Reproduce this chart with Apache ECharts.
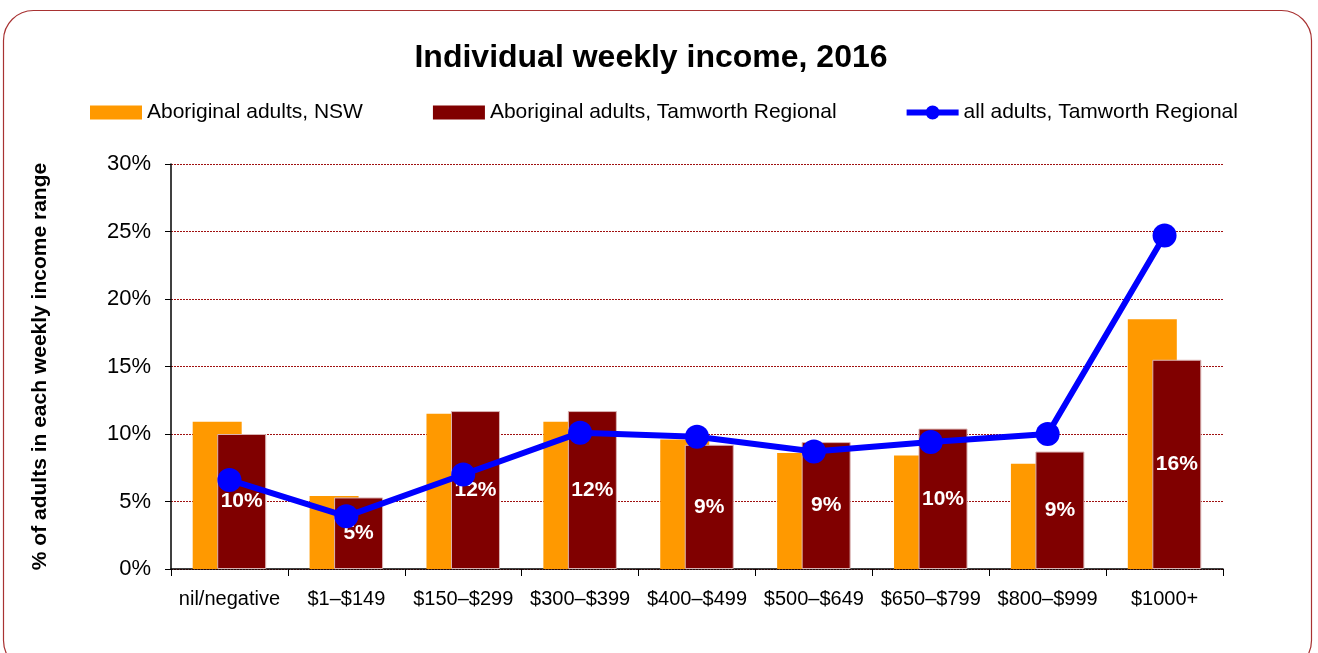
<!DOCTYPE html>
<html>
<head>
    <meta charset="utf-8">
    <title>Individual weekly income, 2016</title>
    <script src="https://cdn.jsdelivr.net/npm/echarts@6/dist/echarts.min.js"></script>
    <style>
        html, body { margin: 0; padding: 0; background: #fff; }
        #main { width: 1318px; height: 653px; }
    </style>
</head>
<body>
    <div id="main"></div>
<script type="text/javascript">
    var categories = ['nil/negative', '$1–$149', '$150–$299', '$300–$399', '$400–$499',
        '$500–$649', '$650–$799', '$800–$999', '$1000+'];
    var nswAboriginal = [10.9, 5.4, 11.5, 10.9, 9.6, 8.6, 8.4, 7.8, 18.5];
    var tamworthAboriginal = [10.0, 5.3, 11.7, 11.7, 9.2, 9.4, 10.4, 8.7, 15.5];
    var tamworthAll = [6.6, 3.9, 7.0, 10.1, 9.8, 8.7, 9.4, 10.0, 24.7];
    var yTicks = [0, 5, 10, 15, 20, 25, 30];

    var font = '"Liberation Sans", Arial, sans-serif';
    var myChart = echarts.init(document.getElementById('main'));

    // legend marker for the line: thick bar with a dot in the middle
    var lineIcon = 'path://M0,4L52,4L52,10L0,10Z M26,0A7,7 0 1 1 26,14A7,7 0 1 1 26,0Z';

    myChart.setOption({
        animation: false,
        textStyle: { fontFamily: font },
        graphic: [{
            type: 'rect',
            shape: { x: 3.5, y: 10.5, width: 1308, height: 660, r: 30 },
            style: { fill: 'none', stroke: '#a83232', lineWidth: 1.2 },
            z: -1
        }],
        title: {
            text: 'Individual weekly income, 2016',
            left: 646, top: 37, textAlign: 'center',
            textStyle: { fontSize: 32, fontWeight: 'bold', color: '#000', fontFamily: font }
        },
        legend: {
            top: 102, left: 90, padding: 0,
            itemGap: 70,
            itemWidth: 52, itemHeight: 14,
            itemStyle: { borderWidth: 0 },
            textStyle: { fontSize: 21, color: '#000', fontFamily: font },
            data: [
                { name: 'Aboriginal adults, NSW', icon: 'rect' },
                { name: 'Aboriginal adults, Tamworth Regional', icon: 'rect' },
                { name: 'all adults, Tamworth Regional', icon: lineIcon }
            ]
        },
        grid: { left: 171, right: 95, top: 164, bottom: 84 },
        xAxis: {
            type: 'category',
            data: categories,
            axisLine: { lineStyle: { color: '#000', width: 1.5 } },
            axisTick: { show: true, length: 7, lineStyle: { color: '#000' } },
            axisLabel: { fontSize: 20, color: '#000', margin: 20, fontFamily: font, interval: 0 }
        },
        yAxis: {
            type: 'value',
            min: 0, max: 30, interval: 5,
            name: '% of adults in each weekly income range',
            nameLocation: 'middle',
            nameGap: 120,
            nameTextStyle: { fontSize: 21, fontWeight: 'bold', color: '#000', fontFamily: font },
            axisLine: { show: true, lineStyle: { color: '#000', width: 1.5 } },
            axisTick: { show: true, inside: false, length: 6, lineStyle: { color: '#000' } },
            axisLabel: {
                fontSize: 22, color: '#000', margin: 20, fontFamily: font,
                formatter: function (v) { return yTicks.indexOf(v) >= 0 ? v + '%' : ''; }
            },
            splitLine: { lineStyle: { color: '#a01010', type: [2, 1], width: 1 } }
        },
        series: [{
            name: 'Aboriginal adults, NSW',
            type: 'bar',
            data: nswAboriginal,
            barWidth: 49,
            barGap: '-50%',
            itemStyle: { color: '#ff9900' }
        }, {
            name: 'Aboriginal adults, Tamworth Regional',
            type: 'bar',
            data: tamworthAboriginal,
            barWidth: 49,
            itemStyle: { color: '#800000', borderColor: '#d9b3b3', borderWidth: 1 },
            label: {
                show: true, position: 'inside',
                color: '#fff', fontSize: 21, fontWeight: 'bold', fontFamily: font,
                formatter: function (p) { return Math.round(p.value) + '%'; }
            },
            z: 3
        }, {
            name: 'all adults, Tamworth Regional',
            type: 'line',
            data: tamworthAll,
            symbol: 'circle',
            symbolSize: 24,
            lineStyle: { color: '#0000ff', width: 6 },
            itemStyle: { color: '#0000ff' },
            z: 5
        }]
    });
</script>
</body>
</html>
